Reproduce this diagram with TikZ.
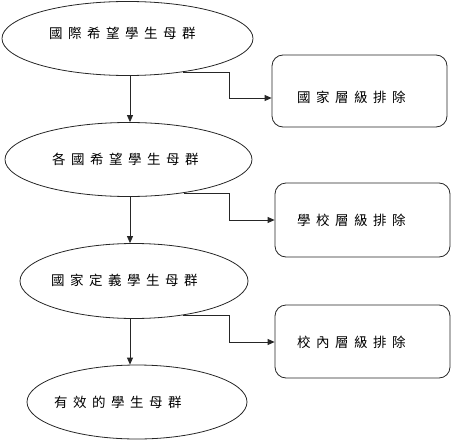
\documentclass[tikz,border=0pt]{standalone}
\usepackage{fontspec}
\newfontfamily\cjk{Noto Sans CJK TC}
\usetikzlibrary{shapes.geometric,arrows.meta}
\newcommand\gp{\hspace{5.5pt}}
\begin{document}
\begin{tikzpicture}[x=1pt,y=-1pt,
  ell/.style={draw=black!85, line width=0.8pt, ellipse, inner sep=0pt},
  rbox/.style={draw=black!85, line width=0.8pt, rounded corners=11pt, inner sep=0pt},
  txt/.style={font=\cjk\fontsize{13.5}{15}\selectfont, inner sep=0pt, anchor=west},
  arr/.style={draw=black!85, line width=0.8pt, -{Triangle[length=7pt,width=6pt]}},
  lin/.style={draw=black!85, line width=0.8pt}]
\useasboundingbox (0,0) rectangle (457,444);
% ellipses
\node[ell, minimum width=251pt, minimum height=74pt] (e1) at (127.5,38.5) {};
\node[ell, minimum width=247pt, minimum height=74pt] (e2) at (128.5,159.5) {};
\node[ell, minimum width=228pt, minimum height=75pt] (e3) at (134,281) {};
\node[ell, minimum width=220pt, minimum height=74pt] (e4) at (137,402) {};
% texts in ellipses
\node[txt] (t1) at (49,33) {國\gp 際\gp 希\gp 望\gp 學\gp 生\gp 母\gp 群};
\node[txt] (t2) at (52,159) {各\gp 國\gp 希\gp 望\gp 學\gp 生\gp 母\gp 群};
\node[txt] (t3) at (51,280) {國\gp 家\gp 定\gp 義\gp 學\gp 生\gp 母\gp 群};
\node[txt] (t4) at (54,402) {有\gp 效\gp 的\gp 學\gp 生\gp 母\gp 群};
% boxes
\node[rbox, minimum width=175pt, minimum height=72pt] (b1) at (359.5,91) {};
\node[rbox, minimum width=175pt, minimum height=74pt] (b2) at (362.5,220) {};
\node[rbox, minimum width=175pt, minimum height=73pt] (b3) at (362.5,341.5) {};
\node[txt] (s1) at (297,97.5) {國\gp 家\gp 層\gp 級\gp 排\gp 除};
\node[txt] (s2) at (297,220) {學\gp 校\gp 層\gp 級\gp 排\gp 除};
\node[txt] (s3) at (297,342) {校\gp 內\gp 層\gp 級\gp 排\gp 除};
% main arrows
\coordinate (ax) at (130,0);
\draw[arr] (e1.south -| ax) -- (e2.north -| ax);
\draw[arr] (e2.south -| ax) -- (e3.north -| ax);
\draw[arr] (e3.south -| ax) -- (e4.north -| ax);
% side connectors
\coordinate (k1) at (229,98);
\coordinate (k2) at (229,220);
\coordinate (k3) at (229,342);
\draw[arr] (e1.-31.4) -| (k1) -- (k1 -| b1.west);
\draw[arr] (e2.-31.9) -| (k2) -- (k2 -| b2.west);
\draw[arr] (e3.-35.3) -| (k3) -- (k3 -| b3.west);
\end{tikzpicture}
\end{document}
